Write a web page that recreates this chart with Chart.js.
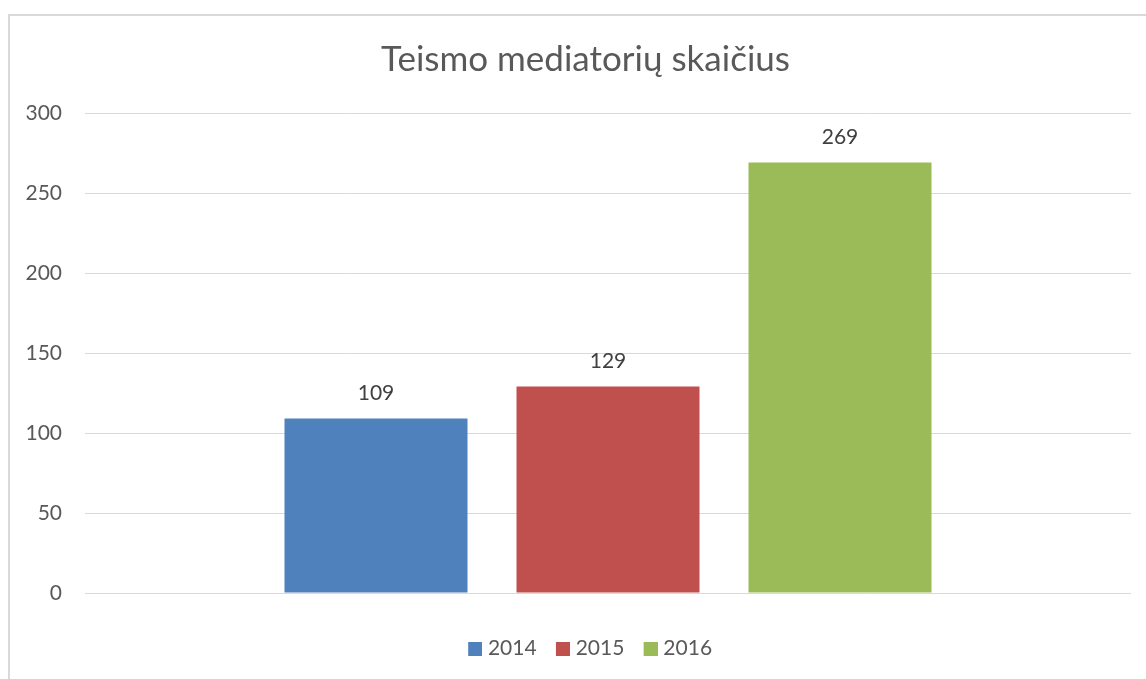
<!DOCTYPE html>
<html>
<head>
<meta charset="utf-8">
<script src="https://cdn.jsdelivr.net/npm/chart.js@4"></script>
<style>
  html, body { margin: 0; padding: 0; background: #ffffff; }
  canvas { display: block; }
</style>
</head>
<body>
<canvas id="c" width="1146" height="679"></canvas>
<script>
const chartTitle = 'Teismo mediatorių skaičius';
const categories = [''];
const seriesNames = ['2014', '2015', '2016'];
const seriesValues = [[109], [129], [269]];
const seriesColors = ['#4F81BD', '#C0504D', '#9BBB59'];
const yTicks = [0, 50, 100, 150, 200, 250, 300];

const FONT = 'Lato, "Open Sans", sans-serif';
const TEXT = '#595959';

// legend swatches: 14px square on the right of a transparent strip
function makeSwatch(color) {
  const c = document.createElement('canvas');
  c.width = 28; c.height = 14;
  const g = c.getContext('2d');
  g.fillStyle = color;
  g.fillRect(14, 0, 14, 14);
  return c;
}
const swatches = seriesColors.map(makeSwatch);

const frame = {
  id: 'frame',
  afterLayout(chart) {
    // let the y tick labels use the space left of the axis box
    chart.scales.y.left = 0;
  },
  beforeDraw(chart) {
    const ctx = chart.ctx;
    ctx.save();
    ctx.fillStyle = '#ffffff';
    ctx.fillRect(0, 0, chart.width, chart.height);
    ctx.strokeStyle = '#D9D9D9';
    ctx.lineWidth = 2;
    ctx.strokeRect(9, 15, chart.width + 20, chart.height + 20);
    ctx.restore();
  }
};

const valueLabels = {
  id: 'valueLabels',
  afterDatasetsDraw(chart) {
    const ctx = chart.ctx;
    ctx.save();
    ctx.font = '21px ' + FONT;
    ctx.fillStyle = '#404040';
    ctx.textAlign = 'center';
    ctx.textBaseline = 'middle';
    chart.data.datasets.forEach((ds, i) => {
      const meta = chart.getDatasetMeta(i);
      meta.data.forEach((el, j) => {
        ctx.fillText(String(ds.data[j]), el.x, el.y - 25);
      });
    });
    ctx.restore();
  }
};

new Chart(document.getElementById('c'), {
  type: 'bar',
  data: {
    labels: categories,
    datasets: seriesNames.map((name, i) => ({
      label: name,
      data: seriesValues[i],
      backgroundColor: seriesColors[i],
      borderWidth: 0,
      categoryPercentage: 0.6654,
      barPercentage: 0.7888
    }))
  },
  options: {
    responsive: false,
    animation: false,
    devicePixelRatio: 1,
    layout: { padding: { left: 40, right: 15, top: 0, bottom: 10 } },
    plugins: {
      title: {
        display: true,
        text: chartTitle,
        color: TEXT,
        font: { family: FONT, size: 35, weight: 'normal' },
        padding: { top: 39, bottom: 32 }
      },
      legend: {
        position: 'bottom',
        labels: {
          color: TEXT,
          font: { family: FONT, size: 21 },
          usePointStyle: true,
          pointStyleWidth: 18.5,
          boxHeight: 14,
          padding: 10,
          generateLabels(chart) {
            const items = Chart.defaults.plugins.legend.labels.generateLabels(chart);
            items.forEach((it, i) => { it.pointStyle = swatches[i]; });
            return items;
          }
        }
      },
      tooltip: { enabled: false }
    },
    scales: {
      x: {
        grid: { display: false },
        border: { display: false },
        ticks: { display: false },
        afterFit(scale) { scale.height = 35; }
      },
      y: {
        min: 0,
        max: 300,
        afterBuildTicks(scale) { scale.ticks = yTicks.map(v => ({ value: v })); },
        grid: { color: '#D9D9D9', lineWidth: 1, drawTicks: false },
        border: { display: false },
        ticks: {
          color: TEXT,
          font: { family: FONT, size: 21 },
          padding: 23
        },
        afterFit(scale) { scale.width = 45; }
      }
    }
  },
  plugins: [frame, valueLabels]
});
</script>
</body>
</html>
